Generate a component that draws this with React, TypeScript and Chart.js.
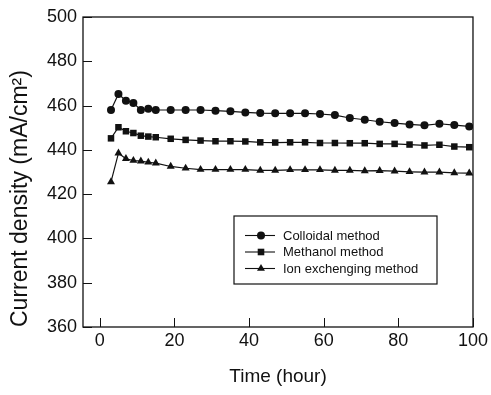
import { useEffect, useRef } from 'react';
import { Chart, registerables } from 'chart.js';

Chart.register(...registerables);

const hours = [3, 5, 7, 9, 11, 13, 15, 19, 23, 27, 31, 35, 39, 43, 47, 51, 55, 59, 63, 67, 71, 75, 79, 83, 87, 91, 95, 99];

const colloidal = [458, 465.2, 462.2, 461.2, 458, 458.6, 458, 458, 458, 458, 457.7, 457.4, 456.9, 456.6, 456.5, 456.5, 456.5, 456.2, 455.7, 454.4, 453.6, 452.7, 452.1, 451.5, 451.1, 451.8, 451.2, 450.6];
const methanol = [445.2, 450.2, 448.4, 447.6, 446.4, 446, 445.7, 445, 444.5, 444.2, 443.9, 443.9, 443.8, 443.4, 443.3, 443.4, 443.4, 443.1, 443.1, 443, 443, 442.7, 442.7, 442.4, 442, 442.3, 441.5, 441.2];
const ionExchange = [425.5, 438.5, 436, 435.2, 434.9, 434.4, 434, 432.5, 431.7, 431.1, 431.1, 431.1, 431.1, 430.7, 430.7, 431, 431, 431, 430.7, 430.7, 430.5, 430.6, 430.4, 430.1, 429.9, 429.9, 429.6, 429.5];

const seriesLabels = ['Colloidal method', 'Methanol method', 'Ion exchenging method'];
const seriesStyles = ['circle', 'rect', 'triangle'];
const xTicks = [0, 20, 40, 60, 80, 100];
const yTicks = [360, 380, 400, 420, 440, 460, 480, 500];

const INK = '#111';
const FONT = "'Liberation Sans', Arial, sans-serif";

function marker(ctx: CanvasRenderingContext2D, style: string, x: number, y: number) {
  ctx.beginPath();
  if (style === 'circle') {
    ctx.arc(x, y, 4, 0, Math.PI * 2);
  } else if (style === 'rect') {
    ctx.rect(x - 3.3, y - 3.3, 6.6, 6.6);
  } else {
    const r = 4.6;
    ctx.moveTo(x, y - r);
    ctx.lineTo(x + r * 0.866, y + r * 0.5);
    ctx.lineTo(x - r * 0.866, y + r * 0.5);
    ctx.closePath();
  }
  ctx.fill();
}

const framePlugin = {
  id: 'frameTicks',
  afterDraw(chart: any) {
    const { ctx, chartArea: a, scales } = chart;
    ctx.save();
    ctx.strokeStyle = INK;
    ctx.lineWidth = 1.3;
    ctx.strokeRect(a.left, a.top, a.right - a.left, a.bottom - a.top);
    ctx.lineWidth = 1;
    ctx.beginPath();
    xTicks.forEach((v) => {
      const px = Math.round(scales.x.getPixelForValue(v)) + 0.5;
      ctx.moveTo(px, a.bottom);
      ctx.lineTo(px, a.bottom - 9);
    });
    yTicks.forEach((v) => {
      const py = Math.round(scales.y.getPixelForValue(v)) + 0.5;
      ctx.moveTo(a.left, py);
      ctx.lineTo(a.left + 9, py);
    });
    ctx.stroke();

    // legend box
    const bx = 234, by = 216, bw = 203, bh = 68;
    ctx.fillStyle = '#fff';
    ctx.fillRect(bx, by, bw, bh);
    ctx.lineWidth = 1.2;
    ctx.strokeRect(bx, by, bw, bh);
    const rows = [235, 251.5, 268];
    ctx.font = `13px ${FONT}`;
    ctx.textBaseline = 'middle';
    ctx.textAlign = 'left';
    seriesLabels.forEach((label, i) => {
      const ry = rows[i];
      ctx.strokeStyle = INK;
      ctx.lineWidth = 1.1;
      ctx.beginPath();
      ctx.moveTo(245, ry + 0.5);
      ctx.lineTo(275, ry + 0.5);
      ctx.stroke();
      ctx.fillStyle = INK;
      marker(ctx, seriesStyles[i], 261, ry + 0.5);
      ctx.fillText(label, 283, ry + 1);
    });
    ctx.restore();
  },
};

export default function App() {
  const ref = useRef<HTMLCanvasElement | null>(null);

  useEffect(() => {
    if (!ref.current) return;
    const values = [colloidal, methanol, ionExchange];
    const radii = [4, 4.6, 4.6];
    const chart = new Chart(ref.current, {
      type: 'line',
      data: {
        datasets: values.map((vals, i) => ({
          label: seriesLabels[i],
          data: hours.map((h, j) => ({ x: h, y: vals[j] })),
          borderColor: INK,
          borderWidth: 1.2,
          backgroundColor: INK,
          pointStyle: seriesStyles[i] as any,
          pointRadius: radii[i],
          pointBackgroundColor: INK,
          pointBorderWidth: 0,
          tension: 0,
        })),
      },
      options: {
        responsive: false,
        animation: false,
        layout: { padding: { top: 17, right: 15, left: 0, bottom: 0 } },
        plugins: { legend: { display: false }, tooltip: { enabled: false } },
        scales: {
          x: {
            type: 'linear',
            min: -4.5,
            max: 100,
            afterBuildTicks: (s: any) => {
              s.ticks = xTicks.map((v) => ({ value: v }));
            },
            afterFit: (s: any) => {
              s.height = 68;
            },
            grid: { display: false, drawTicks: false },
            border: { display: false },
            ticks: {
              color: INK,
              font: { family: FONT, size: 18 },
              padding: 3,
              maxRotation: 0,
              autoSkip: false,
            },
            title: {
              display: true,
              text: 'Time (hour)',
              color: INK,
              font: { family: FONT, size: 19 },
              padding: { top: 0, bottom: 6.6 },
            },
          },
          y: {
            type: 'linear',
            min: 360,
            max: 500,
            afterBuildTicks: (s: any) => {
              s.ticks = yTicks.map((v) => ({ value: v }));
            },
            afterFit: (s: any) => {
              s.width = 83;
            },
            grid: { display: false, drawTicks: false },
            border: { display: false },
            ticks: {
              color: INK,
              font: { family: FONT, size: 18 },
              padding: 6,
              autoSkip: false,
            },
            title: {
              display: true,
              text: 'Current density (mA/cm²)',
              color: INK,
              align: 'start',
              font: { family: FONT, size: 23 },
              padding: { top: 7.2, bottom: 0 },
            },
          },
        },
      },
      plugins: [framePlugin],
    });
    return () => chart.destroy();
  }, []);

  return (
    <div style={{ position: 'absolute', left: 0, top: 0, width: 491, height: 395, background: '#fff' }}>
      <canvas ref={ref} width={491} height={395} style={{ display: 'block' }} />
    </div>
  );
}
